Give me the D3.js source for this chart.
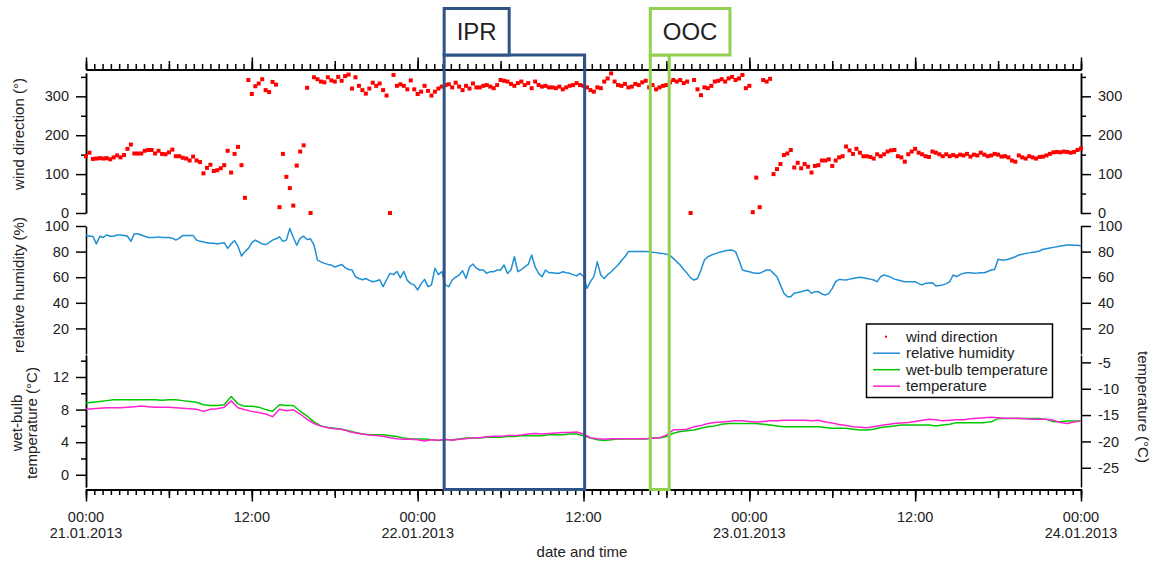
<!DOCTYPE html>
<html>
<head>
<meta charset="utf-8">
<script src="https://cdn.jsdelivr.net/npm/d3@7"></script>
<style>
  body { margin: 0; background: #fff; }
  svg text { font-family: "Liberation Sans", Arial, sans-serif; fill: #222; }
</style>
</head>
<body>
<div id="chart"></div>
<script>
var start = Date.UTC(2013, 0, 21);
var hour = 3600 * 1000;

// wind direction (deg), one value every 15 min from 21.01.2013 00:00
var windDirection = [
  146,155,139,140,141,140,141,138,143,148,143,149,165,176,153,153,153,160,162,162,
  153,160,152,151,156,163,146,146,142,140,135,145,135,131,102,116,124,108,110,115,
  123,160,104,152,170,123,39,
  342,306,326,333,344,316,311,337,330,15,
  152,93,64,19,122,158,174,322,0,
  349,344,338,336,349,341,338,350,340,352,
  356,320,349,327,316,307,320,335,327,333,316,302,0,355,
  327,331,327,318,341,318,306,312,327,314,302,312,320,325,329,331,323,335,325,316,327,320,333,323,
  323,327,329,325,321,329,342,340,338,332,
  327,334,338,329,334,321,338,329,325,327,
  323,323,321,325,318,323,327,329,334,329,
  327,323,316,312,323,321,338,346,359,338,
  329,327,332,323,325,332,329,336,340,323,
  329,318,323,327,329,336,342,338,342,334,
  338,0,342,318,303,323,321,327,338,340,
  344,338,346,350,342,346,355,321,327,2,
  91,15,342,338,345,
  100,113,126,149,153,162,117,129,115,126,
  119,104,121,123,135,135,138,121,135,143,
  146,171,161,152,165,155,146,146,144,140,
  151,146,151,158,161,162,146,143,132,151,
  158,165,155,151,146,144,158,155,151,146,
  151,146,149,146,
  150,148,152,145,150,148,155,150,146,148,152,150,
  145,146,143,135,132,148,143,140,146,143,140,144,145,148,152,156,157,156,158,157,155,157,162,166
];

// relative humidity (%), every 15 min
var relHumidity = [
  93,92,92,86, 92,91,93,92,
  92,93,93,92.5, 92,88,94,94,
  93,92,91,91, 91,91.5,91,91,
  91,90.5,89,90.5, 92.5,92.5,92.5,92.5,
  89,88,87.5,87, 86.5,86.5,86,86.5,
  87,82.5,86,88.5, 84,76.6,80,82.5,
  87,89,87.5,86, 85.5,87,89,90,
  91.5,88,89,98, 91,85,90.5,92,
  89.5,90,85,73.4, 72,70.8,70,69.5,
  68,69,70,67.5, 66,65.6,60.4,59,
  58,59,57.5,56.5, 57,58,52.6,58,
  63,62,64.5,59.5, 64.5,57.5,55,54,
  50,55,58.3,52.6, 54,67,62,64.5,
  54,52.6,57.8,60, 61.7,65,59,68,
  70.3,67,65.6,65.6, 63,64.3,64.3,65.6,
  65.6,69.5,63,65.6, 76,64.3,66,68,
  70,77.3,68,63, 60.4,65.6,63.5,63.5,
  63,63,64.3,63.5, 63,62,61,63,
  60.5,51.3,56.5,60.4, 72,61.7,59,62,
  64.3,67,69.5,73, 76,80,80,80,
  80,80,80,79.8, 79.5,79.2,78.8,78.6,
  78,77,74.7,72, 69.5,66,63,59.5,
  57.8,59,65.6,73.4, 76,77.3,78.2,79.2,
  79.8,80.7,81,81.2, 80,73.4,65.6,64.8,
  64.3,63.5,63,63, 64.3,65.6,65.6,63,
  60.4,54,47.4,44.8, 44.8,47.4,48,48.7,
  49.5,50,47.4,48.7, 48.7,46.9,46,47.4,
  51.3,56.5,58.3,58, 57.8,58.5,59,59.5,
  59.9,59.5,59,58.5, 57.8,56.5,60.4,61.7,
  61,59.9,58.5,57.8, 57,56.5,56.5,56.5,
  56.5,55,54,55.2, 55.5,55.7,53.1,53.5,
  54,55,56.5,61.7, 60.4,62,63,63.5,
  63.5,63,63.2,63.5, 63.5,64.5,65.6,66,
  74,73.4,73.5,74, 75,76,77.3,78,
  78.6,79,79.5,79.9, 80.5,81.8,82.3,82.8,
  83.3,83.8,84.4,84.8, 85.2,85.2,85,84.9,
  84.4
];

// wet-bulb temperature (left axis), every 30 min
var wetBulb = [
  8.8,8.9, 9.0,9.1, 9.2,9.2, 9.2,9.2, 9.2,9.2, 9.2,9.15, 9.2,9.2, 9.1,9.0,
  8.9,8.6, 8.5,8.5, 8.6,9.6, 8.7,8.4, 8.4,8.3, 8.0,7.8, 8.6,8.5, 8.5,7.8,
  7.2,6.5, 6.0,5.8, 5.7,5.6, 5.4,5.2, 5.0,4.9, 4.9,4.9, 4.8,4.7, 4.5,4.4,
  4.4,4.4, 4.3,4.2, 4.3,4.3, 4.4,4.5, 4.5,4.5, 4.6,4.6, 4.6,4.7, 4.7,4.8,
  4.8,4.8, 4.8,4.9, 4.9,4.9, 5.0,5.0, 4.8,4.5, 4.3,4.2, 4.3,4.4, 4.4,4.4,
  4.4,4.4, 4.5,4.5, 4.7,5.1, 5.3,5.4, 5.5,5.7, 5.9,6.0, 6.2,6.3, 6.3,6.3,
  6.3,6.3, 6.2,6.1, 6.0,5.9, 5.9,5.9, 5.9,5.9, 5.9,5.8, 5.7,5.7, 5.7,5.6,
  5.5,5.5, 5.6,5.8, 5.9,6.0, 6.1,6.1, 6.1,6.1, 6.1,6.0, 6.1,6.2, 6.4,6.4,
  6.4,6.4, 6.4,6.5, 6.9,6.9, 6.9,6.9, 6.9,6.9, 6.9,6.8, 6.5,6.5, 6.6,6.6,
  6.6
];

// temperature (right axis), every 30 min
var temperature = [
  -13.9,-13.8, -13.7,-13.6, -13.6,-13.6, -13.5,-13.4, -13.3,-13.4, -13.5,-13.5, -13.5,-13.6, -13.7,-13.8,
  -13.9,-14.3, -13.9,-13.8, -13.5,-12.3, -13.6,-14.0, -14.3,-14.5, -14.8,-15.3, -13.9,-14.2, -14.0,-14.8,
  -15.8,-16.6, -17.1,-17.4, -17.6,-17.7, -18.1,-18.4, -18.6,-18.8, -18.9,-19.0, -19.3,-19.5, -19.6,-19.6,
  -19.7,-19.9, -19.7,-19.8, -19.6,-19.8, -19.6,-19.5, -19.3,-19.3, -19.1,-19.0, -19.0,-18.9, -18.9,-18.8,
  -18.6,-18.5, -18.6,-18.5, -18.4,-18.3, -18.3,-18.2, -18.6,-19.3, -19.5,-19.6, -19.5,-19.5, -19.5,-19.5,
  -19.5,-19.5, -19.4,-19.3, -18.8,-17.8, -17.8,-17.7, -17.2,-17.0, -16.6,-16.4, -16.3,-16.2, -16.1,-16.1,
  -16.2,-16.3, -16.2,-16.1, -16.1,-16.0, -16.0,-16.0, -16.0,-16.1, -16.0,-16.3, -16.5,-16.8, -17.0,-17.2,
  -17.3,-17.4, -17.2,-17.0, -16.8,-16.6, -16.5,-16.4, -16.2,-16.0, -15.8,-15.9, -16.1,-16.0, -15.9,-15.9,
  -15.7,-15.6, -15.5,-15.4, -15.5,-15.6, -15.6,-15.6, -15.7,-15.8, -15.8,-15.8, -16.0,-16.4, -16.6,-16.3,
  -16.1
];

// marked periods
var periodNames = ['IPR', 'OOC'];
var periodFrom = ['2013-01-22T01:55Z', '2013-01-22T16:50Z'];
var periodTo = ['2013-01-22T12:05Z', '2013-01-22T18:12Z'];
var periodColors = ['#2e5385', '#92d050'];

var windTicks = [0, 100, 200, 300];
var windMinor = [50, 150, 250, 350];
var rhTicks = [20, 40, 60, 80, 100];
var wetTicks = [0, 4, 8, 12];
var wetMinor = [2, 6, 10, 14];
var tempTicks = [-25, -20, -15, -10, -5];

var legendNames = ['wind direction', 'relative humidity', 'wet-bulb temperature', 'temperature'];
var colors = { wind: '#ff0000', rh: '#1f8fd4', wet: '#00c800', temp: '#ff22d0' };

var width = 1159, height = 566;
var left = 86, right = 1081;

var svg = d3.select('#chart').append('svg')
    .attr('width', width)
    .attr('height', height);

var x = d3.scaleUtc()
    .domain([new Date(start), new Date(start + 72 * hour)])
    .range([left, right]);
var yWind = d3.scaleLinear().domain([0, 360]).range([213, 73]);
var yRh = d3.scaleLinear().domain([0, 100]).range([354, 226]);
var yWet = d3.scaleLinear().domain([-1.5, 14.7]).range([487, 355]);
var yTemp = d3.scaleLinear().domain([-28.65, -3.6]).range([487, 355]);

function t15(i) { return new Date(start + i * hour / 4); }
function t30(i) { return new Date(start + i * hour / 2); }

function styleAxis(g, labels) {
    g.attr('font-family', null).attr('font-size', null);
    g.select('.domain').attr('stroke', '#000').attr('stroke-width', 1.5);
    g.selectAll('.tick line').attr('stroke', '#000').attr('stroke-width', 1.5);
    g.selectAll('.tick text').attr('font-size', '14.5px').attr('fill', '#222');
    if (!labels) g.selectAll('.tick text').remove();
    return g;
}

// plain hyphen for negative numbers, like the original
function plain(d) { return String(d); }

function yAxis(scale, side, major, minor) {
    var pos = side === 'left' ? left : right;
    var make = side === 'left' ? d3.axisLeft : d3.axisRight;
    if (minor) {
        svg.append('g').attr('transform', 'translate(' + pos + ',0)')
            .call(make(scale).tickValues(minor).tickSize(5).tickSizeOuter(0).tickFormat(''))
            .call(styleAxis, false);
    }
    svg.append('g').attr('transform', 'translate(' + pos + ',0)')
        .call(make(scale).tickValues(major).tickSize(10).tickSizeOuter(0).tickPadding(7).tickFormat(plain))
        .call(styleAxis, true);
}

// time axes, top and bottom
var minorTimes = d3.range(0, 72 * 60 + 1, 36).map(function (m) { return new Date(start + m * 60000); });
var sixTimes = d3.range(0, 73, 6).map(function (h) { return new Date(start + h * hour); });
var twelveTimes = d3.range(0, 73, 12).map(function (h) { return new Date(start + h * hour); });

[[d3.axisBottom, 489.5], [d3.axisTop, 69.5]].forEach(function (a) {
    [[minorTimes, 5.5], [sixTimes, 8.5], [twelveTimes, 12]].forEach(function (lv) {
        svg.append('g').attr('transform', 'translate(0,' + a[1] + ')')
            .call(a[0](x).tickValues(lv[0]).tickSize(lv[1]).tickSizeOuter(0).tickFormat(''))
            .call(styleAxis, false);
    });
});

var fmtTime = d3.utcFormat('%H:%M'), fmtDate = d3.utcFormat('%d.%m.%Y');
twelveTimes.forEach(function (d) {
    var t = svg.append('text')
        .attr('x', x(d))
        .attr('y', 522)
        .attr('text-anchor', 'middle')
        .attr('font-size', '14.5px');
    t.append('tspan').attr('x', x(d)).text(fmtTime(d));
    if (d.getUTCHours() === 0) {
        t.append('tspan').attr('x', x(d)).attr('dy', 16).text(fmtDate(d));
    }
});

yAxis(yWind, 'left', windTicks, windMinor);
yAxis(yWind, 'right', windTicks, windMinor);
yAxis(yRh, 'left', rhTicks);
yAxis(yRh, 'right', rhTicks);
yAxis(yWet, 'left', wetTicks, wetMinor);
yAxis(yTemp, 'right', tempTicks);

// data
svg.append('g').selectAll('rect')
    .data(windDirection)
    .enter().append('rect')
    .attr('x', function (d, i) { return x(t15(i)) - 2; })
    .attr('y', function (d) { return yWind(d) - 2; })
    .attr('width', 4)
    .attr('height', 4)
    .attr('fill', colors.wind);

function drawLine(values, timeOf, scale, color) {
    var line = d3.line()
        .x(function (d, i) { return x(timeOf(i)); })
        .y(function (d) { return scale(d); });
    svg.append('path')
        .datum(values)
        .attr('d', line)
        .attr('fill', 'none')
        .attr('stroke', color)
        .attr('stroke-width', 1.5)
        .attr('stroke-linejoin', 'round');
}

drawLine(relHumidity, t15, yRh, colors.rh);
drawLine(wetBulb, t30, yWet, colors.wet);
drawLine(temperature, t30, yTemp, colors.temp);

// IPR / OOC boxes
periodNames.forEach(function (name, i) {
    var x0 = x(new Date(periodFrom[i])), x1 = x(new Date(periodTo[i]));
    var g = svg.append('g');
    g.append('rect')
        .attr('x', x0).attr('y', 55)
        .attr('width', x1 - x0).attr('height', 489.5 - 55)
        .attr('fill', 'none')
        .attr('stroke', periodColors[i])
        .attr('stroke-width', 3);
    var box = g.append('rect')
        .attr('x', x0).attr('y', 8.5)
        .attr('height', 46.5)
        .attr('fill', '#fff')
        .attr('stroke', periodColors[i])
        .attr('stroke-width', 3);
    var label = g.append('text')
        .attr('y', 32)
        .attr('dy', '0.35em')
        .attr('text-anchor', 'middle')
        .attr('font-size', '24px')
        .attr('fill', '#111')
        .text(name);
    var w = label.node().getComputedTextLength() + 25;
    box.attr('width', w);
    label.attr('x', x0 + w / 2);
});

// axis titles
function title(txt, tx, ty, rot) {
    svg.append('text')
        .attr('transform', 'translate(' + tx + ',' + ty + ') rotate(' + rot + ')')
        .attr('text-anchor', 'middle')
        .attr('dy', '0.35em')
        .attr('font-size', '15px')
        .text(txt);
}
title('wind direction (°)', 19, 134, -90);
title('relative humidity (%)', 19, 285, -90);
title('wet-bulb', 17, 423, -90);
title('temperature (°C)', 32, 423, -90);
title('temperature (°C)', 1143, 407, 90);
title('date and time', 582, 552, 0);

// legend
var legend = svg.append('g');
legend.append('rect')
    .attr('x', 866.5).attr('y', 324)
    .attr('width', 186).attr('height', 73.5)
    .attr('fill', '#fff')
    .attr('stroke', '#000')
    .attr('stroke-width', 1.5);
var legendColors = [colors.wind, colors.rh, colors.wet, colors.temp];
legendNames.forEach(function (name, i) {
    var ly = 336.7 + i * 16.5;
    if (i === 0) {
        legend.append('rect').attr('x', 885).attr('y', ly - 1).attr('width', 2).attr('height', 2)
            .attr('fill', legendColors[i]);
    } else {
        legend.append('line').attr('x1', 873).attr('x2', 900).attr('y1', ly).attr('y2', ly)
            .attr('stroke', legendColors[i]).attr('stroke-width', 1.5);
    }
    legend.append('text')
        .attr('x', 906).attr('y', ly)
        .attr('dy', '0.35em')
        .attr('font-size', '15px')
        .text(name);
});
</script>
</body>
</html>
